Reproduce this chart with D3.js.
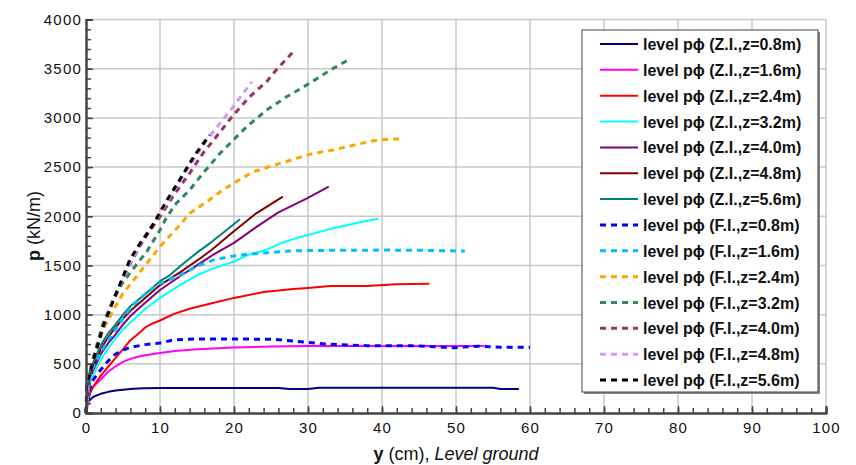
<!DOCTYPE html>
<html>
<head>
<meta charset="utf-8">
<script src="https://cdn.jsdelivr.net/npm/d3@7"></script>
<style>
  body { margin: 0; background: #fff; }
  text { font-family: "Liberation Sans", Arial, Helvetica, sans-serif; }
</style>
</head>
<body>
<div id="chart"></div>
<script>
// p-y curves, values: [y (cm), p (kN/m)]
var zi08 = [[0,60],[0.2,110],[1,165],[2,195],[3,215],[4,228],[5,237],[6,243],[7,248],[8,252],[10,255],[15,255],[20,255],[26,255],[27.5,245],[30,243],[31.5,256],[40,257],[50,257],[55,256],[56,244],[58.5,243]];
var zi16 = [[0,0],[0.3,130],[0.6,210],[1,270],[2,340],[3,420],[4,475],[5,520],[6,550],[7,572],[8,588],[10,610],[12,630],[15,648],[20,665],[25,675],[30,680],[40,681],[50,681],[53.8,681]];
var zi24 = [[0,0],[0.5,200],[1,270],[2,380],[3,470],[4,560],[5,650],[6,740],[7,800],[8,870],[9,910],[10,940],[12,1010],[14,1060],[17,1115],[20,1170],[24,1230],[28,1260],[30,1270],[33,1290],[38,1292],[42,1308],[46.4,1315]];
var zi32 = [[0,0],[0.5,300],[1,390],[2,540],[3,660],[4,760],[5,850],[6,920],[8,1060],[10,1170],[12.7,1300],[15,1400],[17.2,1470],[20,1540],[22,1610],[24.4,1660],[26.5,1730],[29,1790],[33,1870],[37,1940],[39.5,1975]];
var zi40 = [[0,0],[0.5,360],[1,440],[2,600],[3,710],[4,800],[5,900],[6,985],[8,1120],[10,1250],[12.7,1390],[15,1500],[17.2,1610],[20,1730],[23,1890],[26,2040],[29.8,2180],[32.8,2300]];
var zi48 = [[0,0],[0.5,400],[1,480],[2,650],[3,770],[4,870],[5,960],[6,1040],[8,1170],[10,1300],[12.7,1430],[15.4,1570],[17,1660],[19.9,1842],[23,2030],[26.6,2200]];
var zi56 = [[0,0],[0.5,430],[1,520],[2,690],[3,810],[4,900],[5,1000],[6,1085],[8,1210],[10,1340],[11.3,1400],[13,1510],[15,1630],[17,1740],[19,1860],[20.8,1970]];
var fi08 = [[0,0],[0.5,250],[1,340],[2,440],[3,530],[4,600],[5,640],[6,668],[8,695],[10,712],[12,745],[15,752],[20,752],[25,750],[27,738],[30,718],[32,704],[34,696],[38,684],[44,683],[47,674],[49.5,664],[53,678],[56,668],[60,668]];
var fi16 = [[0,0],[0.5,380],[1,470],[2,620],[3,740],[4,850],[6,1070],[8,1210],[10,1318],[12.7,1400],[15,1490],[17.2,1555],[19.5,1592],[22,1615],[24.4,1628],[27,1645],[30,1652],[40,1656],[45,1655],[48,1650],[51.2,1645]];
var fi24 = [[0,0],[0.5,400],[1,540],[1.5,650],[2.3,843],[3.7,1047],[5,1216],[6.8,1385],[8.2,1521],[10,1690],[11.3,1800],[12.7,1911],[14,2029],[16.3,2147],[18.5,2266],[20.3,2351],[22.6,2452],[26.2,2537],[30.7,2639],[33.4,2673],[36,2720],[38.8,2767],[41,2785],[42.5,2785]];
var fi32 = [[0,0],[0.5,420],[1,572],[2.3,912],[3.7,1148],[4.6,1284],[5.9,1420],[8.2,1640],[10,1860],[10.9,1990],[12.2,2131],[14,2266],[15.8,2436],[18.1,2639],[19.9,2774],[21.7,2910],[24.4,3079],[27.1,3214],[29.8,3333],[33.4,3503],[35.4,3587]];
var fi40 = [[0,0],[0.3,300],[1,540],[2.3,877],[3.7,1148],[5,1360],[6,1520],[7.3,1700],[8.6,1850],[10,1995],[12,2230],[14,2436],[15.8,2639],[17.6,2808],[19.9,3028],[22.1,3214],[24.4,3367],[25.7,3486],[28,3672]];
var fi48 = [[0,0],[0.3,300],[1,545],[2.3,880],[3.7,1155],[5,1370],[6,1530],[7.3,1715],[8.6,1870],[10,2029],[12.2,2300],[13.6,2469],[16.3,2774],[18.1,2944],[19.9,3113],[22.4,3367]];
var fi56 = [[0,0],[0.1,267],[1,539],[2.3,877],[3.7,1148],[5,1385],[5.9,1555],[7.3,1724],[8.6,1860],[9.8,2012],[10.8,2147],[12.5,2351],[13.6,2487],[14.7,2622],[16.7,2825]];

var seriesData = [zi08, zi16, zi24, zi32, zi40, zi48, zi56, fi08, fi16, fi24, fi32, fi40, fi48, fi56];
var seriesNames = ["level p\u03D5 (Z.I.,z=0.8m)", "level p\u03D5 (Z.I.,z=1.6m)", "level p\u03D5 (Z.I.,z=2.4m)",
  "level p\u03D5 (Z.I.,z=3.2m)", "level p\u03D5 (Z.I.,z=4.0m)", "level p\u03D5 (Z.I.,z=4.8m)", "level p\u03D5 (Z.I.,z=5.6m)",
  "level p\u03D5 (F.I.,z=0.8m)", "level p\u03D5 (F.I.,z=1.6m)", "level p\u03D5 (F.I.,z=2.4m)", "level p\u03D5 (F.I.,z=3.2m)",
  "level p\u03D5 (F.I.,z=4.0m)", "level p\u03D5 (F.I.,z=4.8m)", "level p\u03D5 (F.I.,z=5.6m)"];
var seriesColors = ["#000080", "#ff00ff", "#ff0000", "#00ffff", "#800080", "#800000", "#008080",
  "#0000ff", "#00bfff", "#ffa500", "#2e8b57", "#993366", "#cc99ff", "#000000"];
var seriesDashed = [false, false, false, false, false, false, false, true, true, true, true, true, true, true];

var xTicks = [0, 10, 20, 30, 40, 50, 60, 70, 80, 90, 100];
var yTicks = [0, 500, 1000, 1500, 2000, 2500, 3000, 3500, 4000];

var margin = { top: 19.5, right: 30, bottom: 52, left: 86 };
var W = 856, H = 465;
var width = W - margin.left - margin.right;
var height = H - margin.top - margin.bottom;

var svg = d3.select("#chart").append("svg")
  .attr("width", W)
  .attr("height", H);

var g = svg.append("g")
  .attr("transform", "translate(" + margin.left + "," + margin.top + ")");

var x = d3.scaleLinear().domain([0, 100]).range([0, width]);
var y = d3.scaleLinear().domain([0, 4000]).range([height, 0]);

// grid
g.append("g").selectAll("line")
  .data(xTicks.slice(1))
  .enter().append("line")
  .attr("x1", function(d) { return x(d); })
  .attr("x2", function(d) { return x(d); })
  .attr("y1", 0).attr("y2", height)
  .style("stroke", "#c8c8c8").style("stroke-width", 1.5);

g.append("g").selectAll("line")
  .data(yTicks.slice(1))
  .enter().append("line")
  .attr("y1", function(d) { return y(d); })
  .attr("y2", function(d) { return y(d); })
  .attr("x1", 0).attr("x2", width)
  .style("stroke", "#c8c8c8").style("stroke-width", 1.5);

// curves
var line = d3.line()
  .x(function(d) { return x(d[0]); })
  .y(function(d) { return y(d[1]); });

seriesData.forEach(function(s, i) {
  g.append("path")
    .datum(s)
    .attr("d", line)
    .style("fill", "none")
    .style("stroke", seriesColors[i])
    .style("stroke-width", seriesDashed[i] ? 3 : 2)
    .style("stroke-dasharray", seriesDashed[i] ? "6,5" : null)
    .style("stroke-linejoin", "round");
});

// axes, ticks point inwards. minor ticks in their own groups
g.append("g")
  .attr("class", "minor")
  .attr("transform", "translate(0," + height + ")")
  .call(d3.axisBottom(x).tickValues(d3.range(0, 101, 2)).tickSize(-5).tickFormat(""));
g.append("g")
  .attr("class", "minor")
  .call(d3.axisLeft(y).tickValues(d3.range(0, 4001, 100)).tickSize(-5).tickFormat(""));

g.append("g")
  .attr("transform", "translate(0," + height + ")")
  .call(d3.axisBottom(x).tickValues(xTicks).tickSize(-7).tickPadding(9).tickFormat(d3.format("d")));
g.append("g")
  .call(d3.axisLeft(y).tickValues(yTicks).tickSize(-7).tickPadding(4).tickFormat(d3.format("d")));

g.selectAll(".domain").style("stroke", "#444").style("stroke-width", 2);
g.selectAll(".tick line").style("stroke", "#444").style("stroke-width", 1.5);
g.selectAll(".tick text")
  .style("font-size", "15px")
  .style("letter-spacing", "1.2px")
  .style("fill", "#111");

// axis titles
svg.append("text")
  .attr("x", 456)
  .attr("y", 460)
  .attr("text-anchor", "middle")
  .style("font-size", "18px")
  .style("fill", "#111")
  .call(function(t) {
    t.append("tspan").style("font-weight", "bold").text("y");
    t.append("tspan").text(" (cm), ");
    t.append("tspan").style("font-style", "italic").text("Level ground");
  });

svg.append("text")
  .attr("transform", "translate(40,226) rotate(-90)")
  .attr("text-anchor", "middle")
  .style("font-size", "18px")
  .style("fill", "#111")
  .call(function(t) {
    t.append("tspan").style("font-weight", "bold").text("p");
    t.append("tspan").text(" (kN/m)");
  });

// legend
var lg = svg.append("g").attr("transform", "translate(582,30)");
lg.append("rect")
  .attr("x", 2).attr("y", 2)
  .attr("width", 236).attr("height", 362)
  .style("fill", "#888");
lg.append("rect")
  .attr("width", 236).attr("height", 362)
  .style("fill", "#fff")
  .style("stroke", "#444")
  .style("stroke-width", 1);

seriesNames.forEach(function(name, i) {
  var row = lg.append("g").attr("transform", "translate(0," + (14 + i * 25.85) + ")");
  row.append("line")
    .attr("x1", 18).attr("x2", 56)
    .attr("y1", 0).attr("y2", 0)
    .style("stroke", seriesColors[i])
    .style("stroke-width", seriesDashed[i] ? 3 : 2)
    .style("stroke-dasharray", seriesDashed[i] ? "6,5" : null);
  row.append("text")
    .attr("x", 61)
    .attr("y", 6)
    .style("font-size", "16px")
    .style("font-weight", "bold")
    .style("fill", "#111")
    .text(name);
});
</script>
</body>
</html>
